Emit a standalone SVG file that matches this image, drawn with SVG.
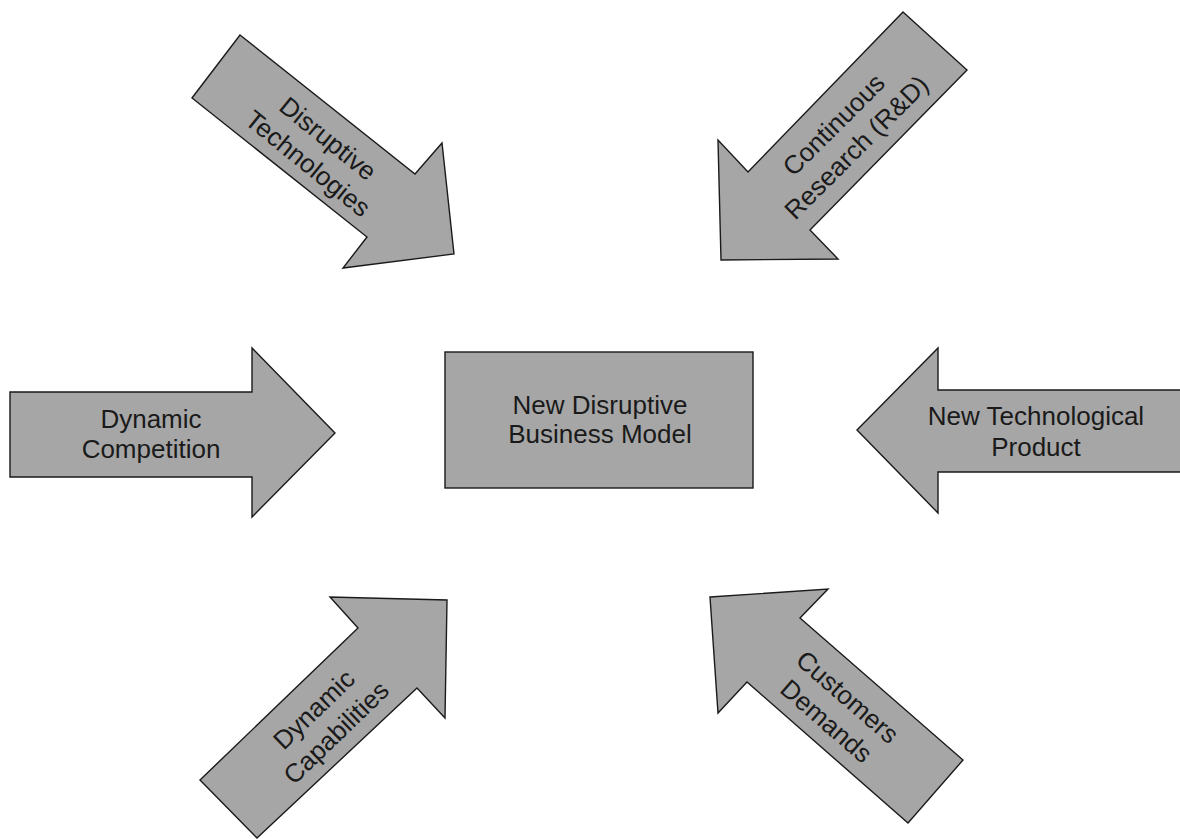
<svg xmlns="http://www.w3.org/2000/svg" width="1180" height="839" viewBox="0 0 1180 839">
  <style>
    .shape { fill: #a6a6a6; stroke: #1a1a1a; stroke-width: 1.4; stroke-linejoin: miter; }
    .label { font-family: "Liberation Sans", Arial, sans-serif; font-size: 26px; fill: #1a1a1a; text-anchor: middle; }
  </style>
  <rect width="1180" height="839" fill="#ffffff"/>

  <!-- Central node -->
  <g id="node-business-model">
    <rect class="shape" x="445" y="352" width="308" height="136"/>
    <text class="label" x="600" y="414">New Disruptive</text>
    <text class="label" x="600" y="443">Business Model</text>
  </g>

  <!-- Incoming block arrows -->
  <g id="connectors">
    <g id="arrow-disruptive-technologies">
      <polygon class="shape" points="240,35 415,174 442,143 454,254 343,268 367,237 192,98"/>
      <g transform="translate(318,151) rotate(39)">
        <text class="label" x="0" y="-7">Disruptive</text>
        <text class="label" x="0" y="25">Technologies</text>
      </g>
    </g>

    <g id="arrow-continuous-research">
      <polygon class="shape" points="903,12 967,70 810,230 838,259 721,260 718,140 748,172"/>
      <g transform="translate(845,136) rotate(-45)">
        <text class="label" x="0" y="-7">Continuous</text>
        <text class="label" x="0" y="25">Research (R&amp;D)</text>
      </g>
    </g>

    <g id="arrow-dynamic-competition">
      <polygon class="shape" points="10,392 252,392 252,348 335,433 252,517 252,477 10,477"/>
      <text class="label" x="151" y="428">Dynamic</text>
      <text class="label" x="151" y="458">Competition</text>
    </g>

    <g id="arrow-new-technological-product">
      <polygon class="shape" points="857,430 938,348 938,390 1181,390 1181,472 938,472 938,513"/>
      <text class="label" x="1036" y="425">New Technological</text>
      <text class="label" x="1036" y="456">Product</text>
    </g>

    <g id="arrow-dynamic-capabilities">
      <polygon class="shape" points="200,780 358,628 330,597 447,600 445,718 417,688 257,838"/>
      <g transform="translate(325,721) rotate(-44)">
        <text class="label" x="0" y="-7">Dynamic</text>
        <text class="label" x="0" y="25">Capabilities</text>
      </g>
    </g>

    <g id="arrow-customers-demands">
      <polygon class="shape" points="710,597 828,589 800,618 963,760 908,823 747,682 718,713"/>
      <g transform="translate(837,709) rotate(41)">
        <text class="label" x="0" y="-7">Customers</text>
        <text class="label" x="0" y="25">Demands</text>
      </g>
    </g>
  </g>
</svg>
